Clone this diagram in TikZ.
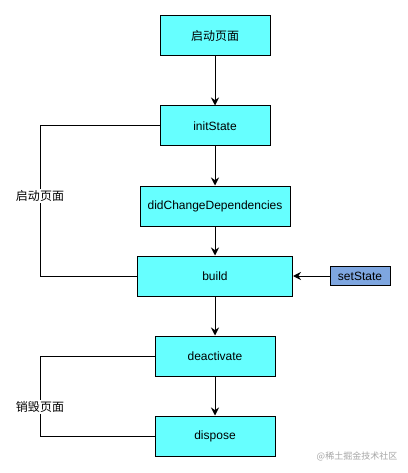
\documentclass[tikz,border=0pt]{standalone}
\usepackage{fontspec}
\setmainfont{Liberation Sans}
\newfontfamily\cjk{Noto Sans CJK SC}
\usetikzlibrary{arrows.meta,positioning}
\definecolor{lcyan}{HTML}{66FFFF}
\definecolor{lblue}{HTML}{7EA6E0}

\begin{document}
\begin{tikzpicture}[x=1pt, y=-1pt, font=\fontsize{12}{14}\selectfont,
  stage/.style={draw=black, fill=lcyan, line width=1pt, minimum height=40pt, inner sep=0pt},
  trigger/.style={draw=black, fill=lblue, line width=1pt, minimum width=60pt, minimum height=19pt, inner sep=0pt},
  flow/.style={line width=1pt, -{Stealth[length=8pt,width=8pt]}},
  loop/.style={line width=1pt},
  tag/.style={fill=white, inner sep=1pt, font=\cjk\fontsize{12}{14}\selectfont},
]
\useasboundingbox (0,0) rectangle (407,473);
% lifecycle boxes
\node[stage, minimum width=110pt] (start) at (215,36) {\cjk 启动页面};
\node[stage, minimum width=110pt] (init) at (215,126) {initState};
\node[stage, minimum width=150pt] (deps) at (215,206) {didChangeDependencies};
\node[stage, minimum width=155pt] (build) at (215,276) {build};
\node[trigger] (set) at (360,276) {setState};
\node[stage, minimum width=120pt] (deact) at (215,356) {deactivate};
\node[stage, minimum width=120pt] (disp) at (215,436) {dispose};
% main flow
\draw[flow] (start) -- (init);
\draw[flow] (init) -- (deps);
\draw[flow] (deps) -- (build);
\draw[flow] (build) -- (deact);
\draw[flow] (deact) -- (disp);
\draw[flow] (set) -- (build);
% brackets on the left
\draw[loop] (init.west) -| (40,276) -- (build.west);
\node[tag] (open) at (40,196) {启动页面};
\draw[loop] (deact.west) -| (40,436) -- (disp.west);
\node[tag] (close) at (40,407) {销毁页面};
% watermark
\node[font=\cjk\fontsize{9}{10}\selectfont, black!35] (mark) at (357,456) {@稀土掘金技术社区};
\end{tikzpicture}
\end{document}
